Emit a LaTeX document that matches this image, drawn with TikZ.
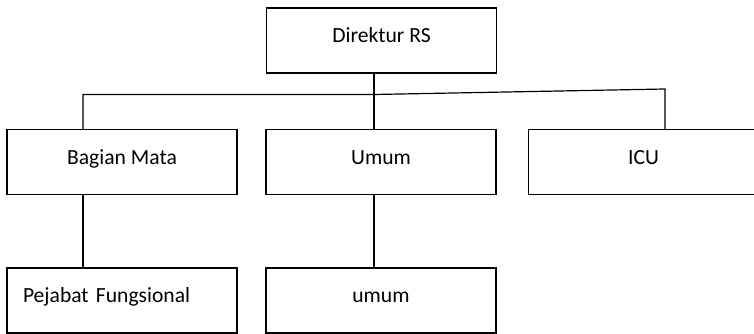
\documentclass[tikz,border=0pt]{standalone}
\usepackage{fontspec}
\setmainfont{Carlito}
\usepackage{tikz}
\usetikzlibrary{positioning,calc}
\tikzset{
  obox/.style={draw,line width=0.9pt,minimum width=172.5pt,inner xsep=0pt,inner ysep=0pt,text height=26pt,text depth=22.75pt,font=\fontsize{16.2}{20}\selectfont},
  lbox/.style={obox,text width=148.5pt,inner xsep=12pt,align=left},
  ln/.style={line width=0.9pt}
}
\begin{document}
\begin{tikzpicture}[x=0.75pt,y=-0.75pt]
\clip (0,0) rectangle (754,334);
\node[obox] (dir) at (381.5,40.5) {Direktur RS};
\node[obox] (bag) at (122,162) {Bagian Mata};
\node[obox] (umm) at (381,162) {Umum};
\node[obox] (icu) at (643.5,162) {ICU};
\node[lbox] (pej) at (122,300.5) {Pejabat Fungsional};
\node[obox] (umu) at (381,300.5) {umum};
\coordinate (jl) at (83,94.5);
\coordinate (jm) at (374,94.5);
\coordinate (jr) at (665,89);
\draw[ln] (bag.north -| jl) -- (jl) -- (jm) -- (jr) -- (icu.north -| jr);
\draw[ln] (dir.south -| jm) -- (umm.north -| jm);
\draw[ln] (bag.south -| jl) -- (pej.north -| jl);
\draw[ln] (umm.south -| jm) -- (umu.north -| jm);
\end{tikzpicture}
\end{document}
